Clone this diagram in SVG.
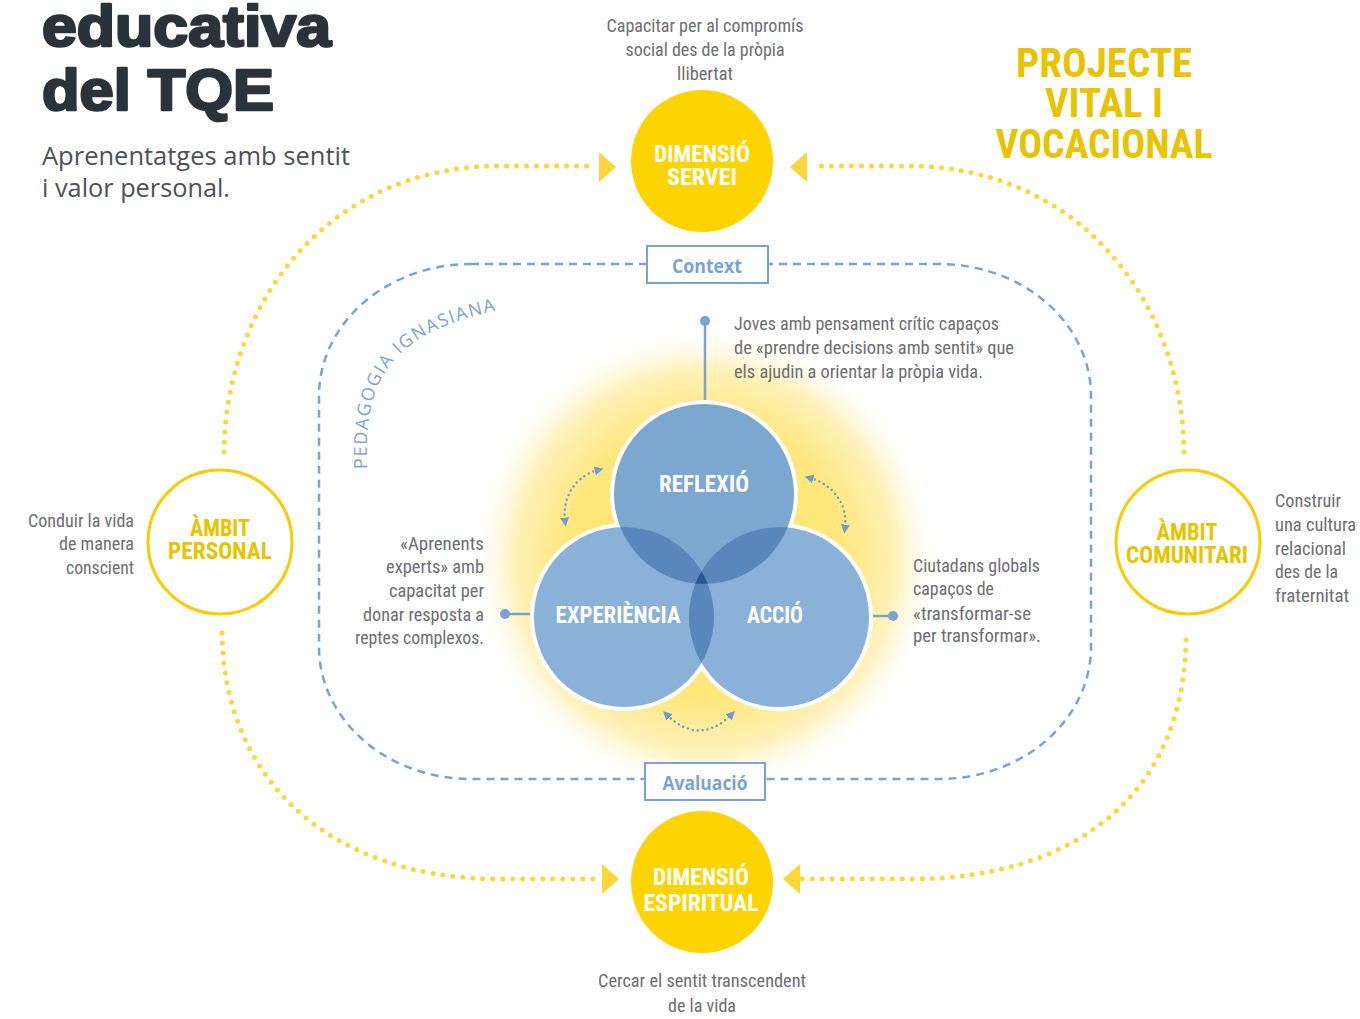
<svg xmlns="http://www.w3.org/2000/svg" width="1360" height="1019" viewBox="0 0 1360 1019">
<style>
.title{font-family:"Liberation Sans",Arial,sans-serif;font-weight:bold;font-size:58px;fill:#2b333a;stroke:#2b333a;stroke-width:2.6;stroke-linejoin:round}
.sub{font-family:"Open Sans","Noto Sans",sans-serif;font-size:25px;fill:#4d5157}
.gray{font-family:"Liberation Sans Narrow","Roboto Condensed","Roboto",sans-serif;font-size:19px;fill:#6d6e71}
.lbl{font-family:"Liberation Sans Narrow","Roboto Condensed","Roboto",sans-serif;font-weight:bold;font-size:23px}
.big{font-size:40px}
.w{fill:#ffffff}
.y{fill:#e8c300}
.bx{font-family:"Open Sans","Noto Sans",sans-serif;font-weight:bold;font-size:20px;fill:#7ba3d0}
.ped{font-family:"Open Sans","Noto Sans",sans-serif;font-size:18px;fill:#7ba3d0}
.ydots{fill:none;stroke:#fdd63a;stroke-width:5;stroke-linecap:round;stroke-dasharray:0 10}
.bdots{fill:none;stroke:#6f9bcd;stroke-width:2.5;stroke-linecap:round;stroke-dasharray:0 5}
.yarrow{fill:#fdd63a}
</style>
<defs>
<radialGradient id="glow" cx="705" cy="560" r="235" gradientUnits="userSpaceOnUse">
<stop offset="0" stop-color="#ffe35f"/>
<stop offset="0.6" stop-color="#ffe77f"/>
<stop offset="0.82" stop-color="#fff2bd"/>
<stop offset="1" stop-color="#ffffff" stop-opacity="0"/>
</radialGradient>
<clipPath id="cR"><circle cx="704" cy="494" r="90"/></clipPath>
<clipPath id="cE"><circle cx="624" cy="617" r="90"/></clipPath>
<clipPath id="cA"><circle cx="779" cy="617" r="90"/></clipPath>
<marker id="barr" viewBox="0 0 8 8" refX="3" refY="4" markerWidth="9" markerHeight="9" markerUnits="userSpaceOnUse" orient="auto-start-reverse">
<path d="M0,0 L8,4 L0,8 z" fill="#6f9bcd"/>
</marker>
<path id="pedPath" d="M 367 469 C 365 395, 375 335, 500 310"/>
</defs>
<rect width="1360" height="1019" fill="#ffffff"/>

<g id="title">
<text class="title" x="42" y="46" textLength="289" lengthAdjust="spacingAndGlyphs">educativa</text>
<text class="title" x="42" y="110" textLength="232" lengthAdjust="spacingAndGlyphs">del  TQE</text>
<text class="sub" x="42" y="165" textLength="308" lengthAdjust="spacingAndGlyphs">Aprenentatges amb sentit</text>
<text class="sub" x="42" y="197" textLength="188" lengthAdjust="spacingAndGlyphs">i valor personal.</text>
</g>

<g id="projecte-vital">
<text class="lbl big y" x="1104" y="77" text-anchor="middle" textLength="176" lengthAdjust="spacingAndGlyphs">PROJECTE</text>
<text class="lbl big y" x="1104" y="117" text-anchor="middle" textLength="118" lengthAdjust="spacingAndGlyphs">VITAL I</text>
<text class="lbl big y" x="1104" y="158" text-anchor="middle" textLength="217" lengthAdjust="spacingAndGlyphs">VOCACIONAL</text>
</g>

<g id="glow-bg">
<circle cx="705" cy="560" r="235" fill="url(#glow)"/>
</g>

<g id="pedagogia-frame">
<rect x="319" y="264" width="772" height="515" rx="152" ry="132" fill="none" stroke="#7ba3d0" stroke-width="2.5" stroke-dasharray="8 6"/>
<text class="ped"><textPath href="#pedPath" textLength="230" lengthAdjust="spacing">PEDAGOGIA IGNASIANA</textPath></text>
</g>

<g id="connectors">
<path class="ydots" d="M224,452 C226,300 330,166 500,166 L594,166"/>
<path class="yarrow" d="M599,152 L616,167 L599,182 z"/>
<path class="ydots" d="M1184,452 C1182,300 1078,166 908,166 L814,166"/>
<path class="yarrow" d="M807,152 L790,167 L807,182 z"/>
<path class="ydots" d="M222,633 C224,780 330,879 500,879 L597,879"/>
<path class="yarrow" d="M602,864 L619,879 L602,894 z"/>
<path class="ydots" d="M1186,640 C1184,790 1080,879 910,879 L792,879"/>
<path class="yarrow" d="M800,864 L783,879 L800,894 z"/>
<line x1="705" y1="321" x2="705" y2="405" stroke="#7ba3d0" stroke-width="2.5"/>
<circle cx="705" cy="321" r="5" fill="#7ba3d0"/>
<line x1="505" y1="614" x2="536" y2="614" stroke="#7ba3d0" stroke-width="2.5"/>
<circle cx="505" cy="614" r="5" fill="#7ba3d0"/>
<line x1="866" y1="616" x2="893" y2="616" stroke="#7ba3d0" stroke-width="2.5"/>
<circle cx="893" cy="616" r="5" fill="#7ba3d0"/>
<path class="bdots" d="M598,470 C576,476 562,496 565,521" marker-start="url(#barr)" marker-end="url(#barr)"/>
<path class="bdots" d="M810,478 C834,485 848,505 845,528" marker-start="url(#barr)" marker-end="url(#barr)"/>
<path class="bdots" d="M667,715 Q699,746 731,715" marker-start="url(#barr)" marker-end="url(#barr)"/>
</g>

<g id="context">
<rect x="647" y="246" width="121" height="37" fill="#ffffff" stroke="#7ba3d0" stroke-width="2"/>
<text class="bx" x="707" y="273" text-anchor="middle" textLength="70" lengthAdjust="spacingAndGlyphs">Context</text>
</g>
<g id="avaluacio">
<rect x="645" y="763" width="120" height="37" fill="#ffffff" stroke="#7ba3d0" stroke-width="2"/>
<text class="bx" x="705" y="790" text-anchor="middle" textLength="85" lengthAdjust="spacingAndGlyphs">Avaluació</text>
</g>

<g id="venn">
<circle cx="704" cy="494" r="94" fill="#ffffff"/>
<circle cx="624" cy="617" r="94" fill="#ffffff"/>
<circle cx="779" cy="617" r="94" fill="#ffffff"/>
<circle cx="704" cy="494" r="90" fill="#7ba7d1"/>
<circle cx="624" cy="617" r="90" fill="#8ab1d7"/>
<circle cx="779" cy="617" r="90" fill="#8ab1d7"/>
<circle cx="624" cy="617" r="90" fill="#5b86bb" clip-path="url(#cR)"/>
<circle cx="779" cy="617" r="90" fill="#5b86bb" clip-path="url(#cR)"/>
<circle cx="779" cy="617" r="90" fill="#5b86bb" clip-path="url(#cE)"/>
<g clip-path="url(#cR)"><circle cx="779" cy="617" r="90" fill="#2d5592" clip-path="url(#cE)"/></g>
</g>
<g id="reflexio"><text class="lbl w" x="704" y="492" text-anchor="middle" textLength="90" lengthAdjust="spacingAndGlyphs">REFLEXIÓ</text></g>
<g id="experiencia"><text class="lbl w" x="618" y="623" text-anchor="middle" textLength="125" lengthAdjust="spacingAndGlyphs">EXPERIÈNCIA</text></g>
<g id="accio"><text class="lbl w" x="775" y="623" text-anchor="middle" textLength="56" lengthAdjust="spacingAndGlyphs">ACCIÓ</text></g>

<g id="reflexio-text">
<text class="gray" x="734" y="330" textLength="265" lengthAdjust="spacingAndGlyphs">Joves amb pensament crític capaços</text>
<text class="gray" x="734" y="354" textLength="280" lengthAdjust="spacingAndGlyphs">de «prendre decisions amb sentit» que</text>
<text class="gray" x="734" y="378" textLength="249" lengthAdjust="spacingAndGlyphs">els ajudin a orientar la pròpia vida.</text>
</g>
<g id="experiencia-text" text-anchor="end">
<text class="gray" x="484" y="550" textLength="84" lengthAdjust="spacingAndGlyphs">«Aprenents</text>
<text class="gray" x="484" y="573" textLength="98" lengthAdjust="spacingAndGlyphs">experts» amb</text>
<text class="gray" x="484" y="597" textLength="95" lengthAdjust="spacingAndGlyphs">capacitat per</text>
<text class="gray" x="484" y="621" textLength="121" lengthAdjust="spacingAndGlyphs">donar resposta a</text>
<text class="gray" x="484" y="644" textLength="129" lengthAdjust="spacingAndGlyphs">reptes complexos.</text>
</g>
<g id="accio-text">
<text class="gray" x="913" y="572" textLength="127" lengthAdjust="spacingAndGlyphs">Ciutadans globals</text>
<text class="gray" x="913" y="595" textLength="81" lengthAdjust="spacingAndGlyphs">capaços de</text>
<text class="gray" x="913" y="620" textLength="118" lengthAdjust="spacingAndGlyphs">«transformar-se</text>
<text class="gray" x="913" y="642" textLength="128" lengthAdjust="spacingAndGlyphs">per transformar».</text>
</g>

<g id="dimensio-servei">
<circle cx="702" cy="161" r="71" fill="#fdd400"/>
<text class="lbl w" x="702" y="162" text-anchor="middle" textLength="96" lengthAdjust="spacingAndGlyphs">DIMENSIÓ</text>
<text class="lbl w" x="702" y="185" text-anchor="middle" textLength="70" lengthAdjust="spacingAndGlyphs">SERVEI</text>
<text class="gray" x="705" y="32" text-anchor="middle" textLength="197" lengthAdjust="spacingAndGlyphs">Capacitar per al compromís</text>
<text class="gray" x="705" y="56" text-anchor="middle" textLength="159" lengthAdjust="spacingAndGlyphs">social des de la pròpia</text>
<text class="gray" x="705" y="80" text-anchor="middle" textLength="56" lengthAdjust="spacingAndGlyphs">llibertat</text>
</g>

<g id="dimensio-espiritual">
<circle cx="702" cy="882" r="71" fill="#fdd400"/>
<text class="lbl w" x="701" y="885" text-anchor="middle" textLength="96" lengthAdjust="spacingAndGlyphs">DIMENSIÓ</text>
<text class="lbl w" x="701" y="911" text-anchor="middle" textLength="115" lengthAdjust="spacingAndGlyphs">ESPIRITUAL</text>
<text class="gray" x="702" y="987" text-anchor="middle" textLength="208" lengthAdjust="spacingAndGlyphs">Cercar el sentit transcendent</text>
<text class="gray" x="702" y="1012" text-anchor="middle" textLength="68" lengthAdjust="spacingAndGlyphs">de la vida</text>
</g>

<g id="ambit-personal">
<circle cx="220" cy="542" r="72" fill="#ffffff" stroke="#f7cd00" stroke-width="3"/>
<text class="lbl y" x="220" y="536" text-anchor="middle" textLength="60" lengthAdjust="spacingAndGlyphs">ÀMBIT</text>
<text class="lbl y" x="220" y="559" text-anchor="middle" textLength="104" lengthAdjust="spacingAndGlyphs">PERSONAL</text>
<text class="gray" x="134" y="527" text-anchor="end" textLength="106" lengthAdjust="spacingAndGlyphs">Conduir la vida</text>
<text class="gray" x="134" y="550" text-anchor="end" textLength="75" lengthAdjust="spacingAndGlyphs">de manera</text>
<text class="gray" x="134" y="574" text-anchor="end" textLength="68" lengthAdjust="spacingAndGlyphs">conscient</text>
</g>

<g id="ambit-comunitari">
<circle cx="1188" cy="542" r="72" fill="#ffffff" stroke="#f7cd00" stroke-width="3"/>
<text class="lbl y" x="1187" y="540" text-anchor="middle" textLength="61" lengthAdjust="spacingAndGlyphs">ÀMBIT</text>
<text class="lbl y" x="1187" y="563" text-anchor="middle" textLength="122" lengthAdjust="spacingAndGlyphs">COMUNITARI</text>
<text class="gray" x="1275" y="507" textLength="66" lengthAdjust="spacingAndGlyphs">Construir</text>
<text class="gray" x="1275" y="531" textLength="81" lengthAdjust="spacingAndGlyphs">una cultura</text>
<text class="gray" x="1275" y="555" textLength="71" lengthAdjust="spacingAndGlyphs">relacional</text>
<text class="gray" x="1275" y="578" textLength="63" lengthAdjust="spacingAndGlyphs">des de la</text>
<text class="gray" x="1275" y="602" textLength="74" lengthAdjust="spacingAndGlyphs">fraternitat</text>
</g>
</svg>
